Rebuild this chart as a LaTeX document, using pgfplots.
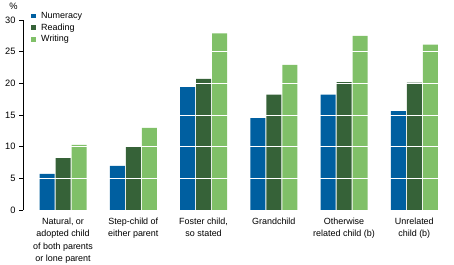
\documentclass[border=0pt]{standalone}
\usepackage{pgfplots}
\pgfplotsset{compat=1.18}
\usepackage{fontspec}
\setmainfont{Liberation Sans}
\definecolor{numcol}{HTML}{005FA0}
\definecolor{readcol}{HTML}{366238}
\definecolor{writecol}{HTML}{80C068}
\begin{document}
\begin{tikzpicture}
\useasboundingbox (-23bp,-55bp) rectangle (431bp,210bp);
\begin{axis}[
  scale only axis, width=425bp, height=190bp,
  ybar, bar width=0.2135,
  xmin=-0.57, xmax=5.48, ymin=0, ymax=30,
  ytick={0,5,...,30},
  xtick={0,1,2,3,4,5},
  xticklabels={{Natural, or\\adopted child\\of both parents\\or lone parent},
               {Step-child of\\either parent},
               {Foster child,\\so stated},
               {Grandchild},
               {Otherwise\\related child (b)},
               {Unrelated\\child (b)}},
  xticklabel style={align=center, font=\fontsize{9}{12.3}\selectfont, yshift=-1bp},
  yticklabel style={font=\fontsize{9.3}{10}\selectfont, xshift=-0.5bp},
  /pgf/number format/assume math mode=true,
  axis x line*=bottom,
  x axis line style={draw=none},
  xtick style={draw=none},
  axis y line*=left,
  y axis line style={black, line width=0.6pt, -},
  ytick style={black, line width=0.6pt},
  tick align=outside, major tick length=3.5bp,
  ymajorgrids, grid style={white, line width=0.9pt},
  axis on top,
  legend style={at={(0,1)}, anchor=north west, xshift=8bp, yshift=9.5bp,
    draw=none, fill=none, font=\fontsize{9}{10}\selectfont,
    row sep=1bp, inner sep=0pt,
    nodes={inner sep=0.5bp, text height=7.2bp, text depth=2.5bp}},
  legend cell align=left,
  legend image code/.code={\fill[#1] (0bp,-2.2bp) rectangle (4.5bp,2.3bp);
    \path (9.5bp,0bp);},
]
\addplot[fill=numcol, draw=none, bar shift=-0.228] coordinates
  {(0,5.7) (1,6.95) (2,19.4) (3,14.5) (4,18.2) (5,15.6)};
\addplot[fill=readcol, draw=none, bar shift=0] coordinates
  {(0,8.2) (1,10.1) (2,20.7) (3,18.2) (4,20.2) (5,20.1)};
\addplot[fill=writecol, draw=none, bar shift=0.228] coordinates
  {(0,10.3) (1,12.95) (2,27.9) (3,22.9) (4,27.5) (5,26.1)};
\legend{Numeracy, Reading, Writing}
\draw[black, line width=0.6pt] (axis cs:-0.47,0) -- (axis cs:5.48,0);
\end{axis}
\node[font=\fontsize{9.3}{10}\selectfont] at (-9.5bp,204bp) {\%};
\end{tikzpicture}
\end{document}
